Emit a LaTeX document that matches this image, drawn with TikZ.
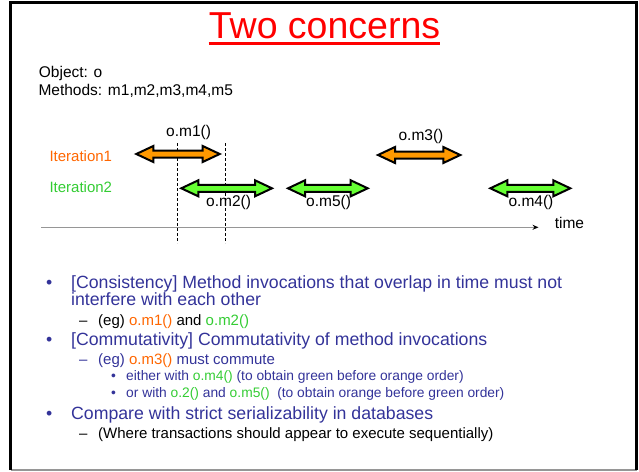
\documentclass[tikz,border=0pt]{standalone}
\usepackage{fontspec}
\setmainfont{Liberation Sans}
\usetikzlibrary{arrows.meta}

\definecolor{tred}{RGB}{255,0,0}
\definecolor{iorange}{RGB}{255,102,0}
\definecolor{igreen}{RGB}{51,204,51}
\definecolor{aorange}{RGB}{255,153,0}
\definecolor{agreen}{RGB}{102,255,51}
\definecolor{bpurple}{RGB}{51,51,153}
\definecolor{tgray}{RGB}{150,150,150}

\newcommand{\fs}[1]{\fontsize{#1}{#1}\selectfont}
\newcommand{\org}[1]{\textcolor{iorange}{#1}}
\newcommand{\grn}[1]{\textcolor{igreen}{#1}}

% double-headed block arrow between x=#1 and x=#2 at height #3, filled with #4
\newcommand{\dblarrow}[4]{%
  \draw[blockarrow, fill=#4] (#1+3,#3) -- ++(17,8) -- ++(0,-4.5)
    -- (#2-20,#3+3.5) -- ++(0,4.5) -- (#2-3,#3) -- ++(-17,-8) -- ++(0,4.5)
    -- (#1+20,#3-3.5) -- ++(0,-4.5) -- cycle;}

\tikzset{
  txt/.style={inner sep=0pt, anchor=base west},
  lbl/.style={txt, font=\fs{15.5}},
  lvlone/.style={txt, font=\fs{17.7}, text=bpurple},
  lvltwo/.style={txt, font=\fs{15}},
  lvlthree/.style={txt, font=\fs{13.8}, text=bpurple},
  blockarrow/.style={line width=2pt, draw=black, line join=miter},
  guide/.style={line width=0.8pt, dash pattern=on 3pt off 2pt},
}

\begin{document}
\begin{tikzpicture}[x=1pt, y=-1pt]
\useasboundingbox (0,0) rectangle (639,471);

% slide frame
\draw[tgray, line width=1.5pt] (10.7,470) -- (636.7,470);
\draw[black, line width=3pt] (10.7,470) -- (10.7,2.8) -- (636.7,2.8) -- (636.7,470);

% title
\node[inner sep=0pt, anchor=base, font=\fs{37.5}, text=tred] (title) at (324.5,38.3) {Two concerns};
\draw[tred, line width=3pt] ([yshift=-5pt]title.base west) -- ([yshift=-5pt]title.base east);

\node[lbl] (obj) at (38.7,77.3) {Object: o};
\node[lbl] (meth) at (38.3,95.7) {Methods: m1,m2,m3,m4,m5};

% time axis
\coordinate (t0) at (41,227.3);
\coordinate (t1) at (538.5,227.3);
\draw[tgray, line width=1.5pt, -{Stealth[length=6pt, width=5pt, black]}] (t0) -- (t1);
\node[lbl] (time) at (554.6,228) {time};

% overlap guides
\coordinate (g1a) at (177.7,143);
\coordinate (g1b) at (177.7,243);
\coordinate (g2a) at (225,143);
\coordinate (g2b) at (225,243);
\draw[guide] (g1a) -- (g1b);
\draw[guide] (g2a) -- (g2b);

% invocations
\dblarrow{133.3}{222.7}{154}{aorange}
\dblarrow{375}{463.3}{155}{aorange}
\dblarrow{178.3}{275}{188.3}{agreen}
\dblarrow{285}{370.7}{188.3}{agreen}
\dblarrow{487.3}{573.3}{188.3}{agreen}

\node[lbl, font=\fs{15}, text=iorange] (it1) at (49.3,161.7) {Iteration1};
\node[lbl, font=\fs{15}, text=igreen] (it2) at (49.3,192.7) {Iteration2};

\node[lbl] (m1) at (166,136.7) {o.m1()};
\node[lbl] (m3) at (398.4,140.7) {o.m3()};
\node[lbl] (m2) at (206,206.7) {o.m2()};
\node[lbl] (m5) at (306,206.7) {o.m5()};
\node[lbl] (m4) at (508.4,206.7) {o.m4()};

% bullet list
\node[lvlone] (b1) at (46,288.3) {•};
\node[lvlone] (b1a) at (71,288.3) {[Consistency] Method invocations that overlap in time must not};
\node[lvlone] (b1b) at (71,305) {interfere with each other};
\node[lvltwo] (d1) at (79,325) {–};
\node[lvltwo] (d1t) at (98,325) {(eg) \org{o.m1()} and \grn{o.m2()}};

\node[lvlone] (b2) at (46,345) {•};
\node[lvlone] (b2a) at (71,345) {[Commutativity] Commutativity of method invocations};
\node[lvltwo, text=bpurple] (d2) at (79,364) {–};
\node[lvltwo, text=bpurple] (d2t) at (98,364) {(eg) \org{o.m3()} must commute};
\node[lvlthree] (s1) at (111,380.7) {•};
\node[lvlthree] (s1t) at (126,380.7) {either with \grn{o.m4()} (to obtain green before orange order)};
\node[lvlthree] (s2) at (111,397.7) {•};
\node[lvlthree] (s2t) at (126,397.7) {or with \grn{o.2()} and \grn{o.m5()}\ \ (to obtain orange before green order)};

\node[lvlone] (b3) at (46,419.3) {•};
\node[lvlone] (b3a) at (71,419.3) {Compare with strict serializability in databases};
\node[lvltwo] (d3) at (79,438.3) {–};
\node[lvltwo] (d3t) at (98,438.3) {(Where transactions should appear to execute sequentially)};
\end{tikzpicture}
\end{document}
